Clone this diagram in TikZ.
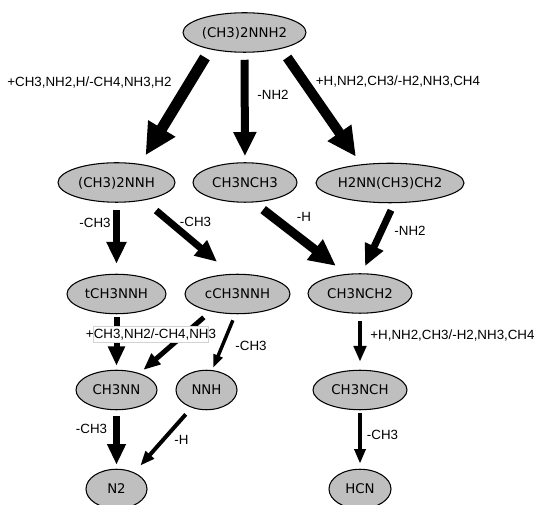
\documentclass[tikz,border=0pt]{standalone}
\usepackage{fontspec}
\setmainfont{DejaVu Sans}
\newfontfamily\ratefont{Liberation Sans}
\usetikzlibrary{shapes,arrows.meta}

\tikzset{
  species/.style={ellipse, draw, line width=0.8pt, fill=lightgray,
                  inner sep=0pt, inner xsep=-3pt, minimum height=29.6pt,
                  text height=7.3pt, text depth=0pt,
                  font=\fontsize{10}{12}\selectfont},
  flux/.style={line width=#1, -{Triangle[length=3.75pt 2.4, width=0pt 2.7]}},
  rate/.style={inner sep=0pt, text height=7.2pt, text depth=0pt,
               font=\ratefont\fontsize{10}{12}\selectfont},
}

\begin{document}
\begin{tikzpicture}[x=0.75pt, y=-0.75pt]
  \useasboundingbox (0, 0) rectangle (536, 505);

  \node[species, minimum width=92.25pt] (udmh) at (244.5,  32.5) {(CH3)2NNH2};
  \node[species, minimum width=87.75pt] (dmnh) at (116.5, 182.5) {(CH3)2NNH};
  \node[species, minimum width=78pt]    (cnc)  at (245,   182.5) {CH3NCH3};
  \node[species, minimum width=111pt]   (hnm)  at (390,   183)   {H2NN(CH3)CH2};
  \node[species, minimum width=74.25pt] (tnh)  at (116.5, 294)   {tCH3NNH};
  \node[species, minimum width=78.75pt] (cnh)  at (237.5, 294)   {cCH3NNH};
  \node[species, minimum width=78pt]    (mnc2) at (360,   293.5) {CH3NCH2};
  \node[species, minimum width=60.75pt] (mnn)  at (116.5, 390)   {CH3NN};
  \node[species, minimum width=45.75pt] (nnh)  at (206.5, 390)   {NNH};
  \node[species, minimum width=70.5pt]  (mnc)  at (360,   390)   {CH3NCH};
  \node[species, minimum width=45.75pt] (ntwo) at (116.5, 489)   {N2};
  \node[species, minimum width=46.5pt]  (hcn)  at (360,   489)   {HCN};

  \draw[flux=8.25pt, shorten <=7.1pt,  shorten >=7.6pt] (udmh.206)   -- (dmnh.38);
  \draw[flux=6pt,    shorten <=5.25pt, shorten >=4.5pt] (udmh.south) -- (cnc.north);
  \draw[flux=7.5pt,  shorten <=7.9pt,  shorten >=7pt]   (udmh.336)   -- (hnm.147);
  \draw[flux=5.25pt, shorten <=5.25pt, shorten >=7.5pt] (dmnh.south) -- (tnh.north);
  \draw[flux=5.25pt, shorten <=11.8pt, shorten >=14pt]  (dmnh.327)   -- (cnh.107);
  \draw[flux=6.75pt, shorten <=8.8pt,  shorten >=9.9pt] (cnc.294)    -- (mnc2.125);
  \draw[flux=5.25pt, shorten <=5.8pt,  shorten >=5.8pt] (hnm.282)    -- (mnc2.85);
  \draw[flux=4.5pt,  shorten <=2.25pt, shorten >=3pt]   (tnh.south)  -- (mnn.north);
  \draw[flux=3.75pt, shorten <=6.75pt, shorten >=3.8pt] (cnh.213)    -- (mnn.36);
  \draw[flux=2.6pt,  shorten <=4.9pt,  shorten >=1.7pt] (cnh.264)    -- (nnh.74);
  \draw[flux=3.4pt,  shorten <=5.25pt, shorten >=6pt]   (mnc2.south) -- (mnc.north);
  \draw[flux=4.9pt,  shorten <=4.5pt,  shorten >=3pt]   (mnn.south)  -- (ntwo.north);
  \draw[flux=3pt,    shorten <=6.6pt,  shorten >=6.75pt] (nnh.230)   -- (ntwo.43);
  \draw[flux=3pt,    shorten <=2.25pt, shorten >=3.75pt] (mnc.south) -- (hcn.north);

  \node[rate] (r1)  at ( 89.5,  82) {+CH3,NH2,H/-CH4,NH3,H2};
  \node[rate] (r2)  at (273,    95) {-NH2};
  \node[rate] (r3)  at (398,    81) {+H,NH2,CH3/-H2,NH3,CH4};
  \node[rate] (r4)  at ( 95,   223) {-CH3};
  \node[rate] (r5)  at (195.5, 222) {-CH3};
  \node[rate] (r6)  at (304,   217) {-H};
  \node[rate] (r7)  at (410,   231) {-NH2};
  \node[rate, draw=gray!35, fill=white, inner ysep=2.4pt, inner xsep=-5.6pt]
              (r8)  at (151,   334) {+CH3,NH2/-CH4,NH3};
  \node[rate] (r9)  at (251,   346) {-CH3};
  \node[rate] (r10) at (452.5, 335) {+H,NH2,CH3/-H2,NH3,CH4};
  \node[rate] (r11) at ( 91.5, 429) {-CH3};
  \node[rate] (r12) at (181.5, 440) {-H};
  \node[rate] (r13) at (382.5, 435) {-CH3};

\end{tikzpicture}
\end{document}
